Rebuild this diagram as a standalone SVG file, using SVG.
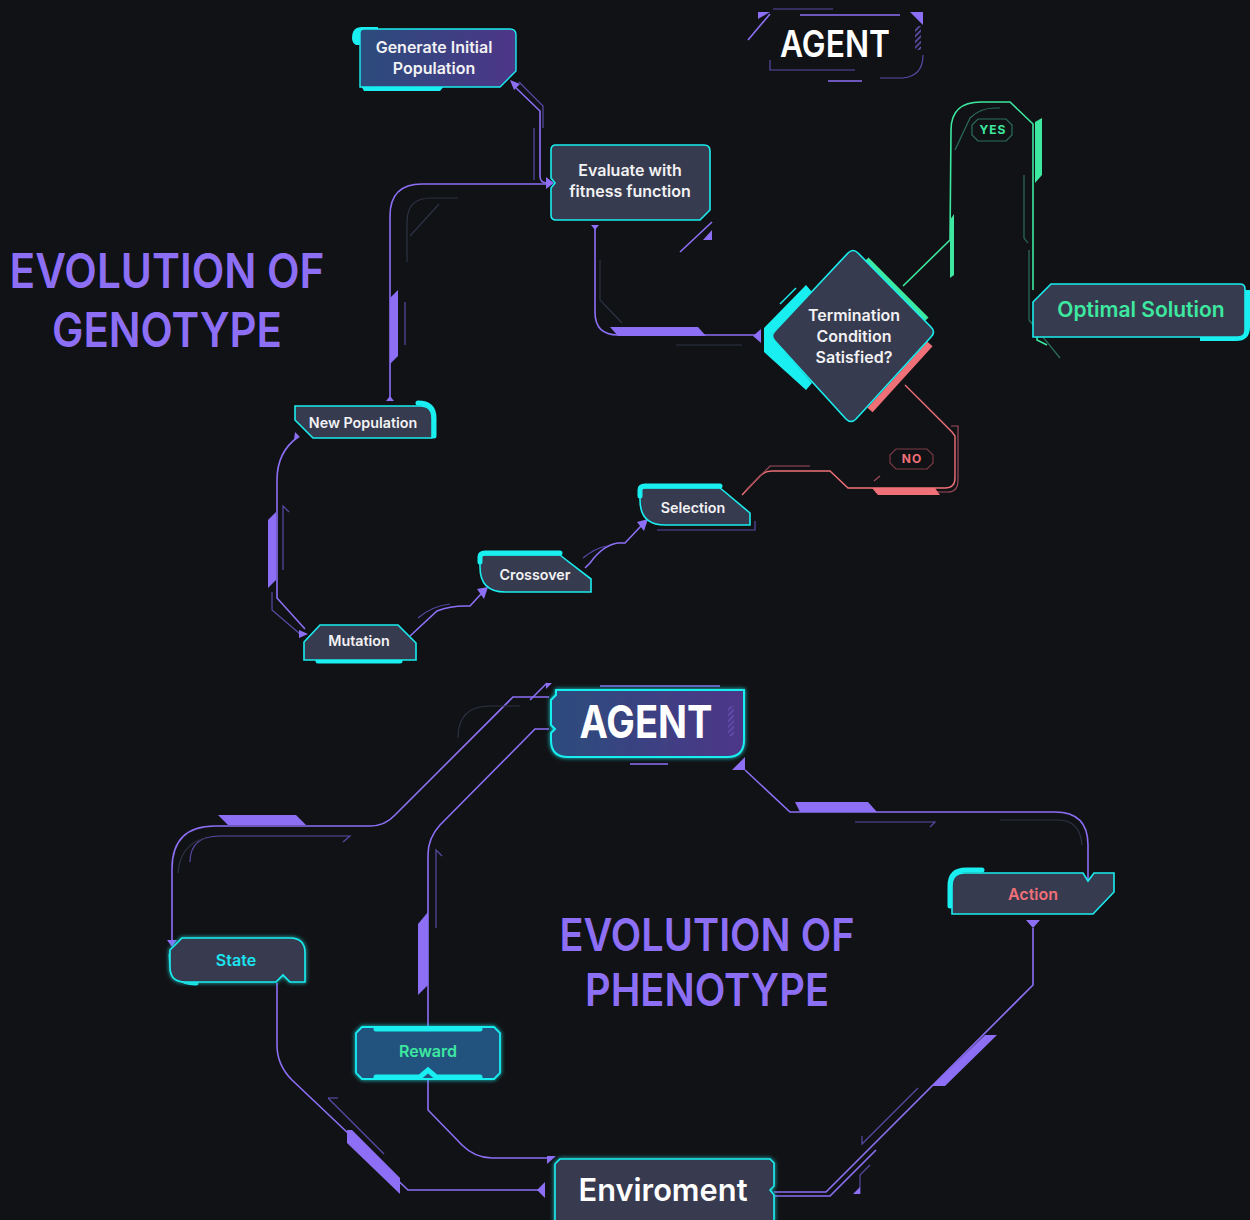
<svg xmlns="http://www.w3.org/2000/svg" width="1250" height="1220" viewBox="0 0 1250 1220">
<defs>
<style>
.bg{fill:#111215}
.node{fill:#373b4f;stroke:#19eef0;stroke-width:1.6}
.acc{fill:none;stroke:#19eef0;stroke-width:5;stroke-linecap:round}
.accf{fill:#19eef0}
.lbl{font-family:"Inter","Noto Sans",sans-serif;font-weight:600;font-size:16px;fill:#f2f2f4;text-anchor:middle}
.lbls{font-family:"Inter","Noto Sans",sans-serif;font-weight:600;font-size:14.3px;fill:#f2f2f4;text-anchor:middle}
.title{font-family:"Inter","Noto Sans",sans-serif;font-weight:600;fill:#8c6ff5;text-anchor:middle}
.ln{fill:none;stroke:#8c6ff5;stroke-width:1.6}
.lnd{fill:none;stroke:#5a4aa8;stroke-width:1.2}
.lnf{fill:none;stroke:#2c3344;stroke-width:1.2}
.pf{fill:#8c6ff5}
.gl{fill:none;stroke:#3de8a0;stroke-width:1.6}
.gf{fill:#3de8a0}
.rl{fill:none;stroke:#f07078;stroke-width:1.4}
.rf{fill:#f07078}
</style>
<linearGradient id="gA" x1="0" y1="0" x2="1" y2="0">
<stop offset="0" stop-color="#2b4c7c"/><stop offset="1" stop-color="#4d3688"/>
</linearGradient>
<filter id="glow" x="-20%" y="-20%" width="140%" height="140%">
<feGaussianBlur stdDeviation="2" result="b"/>
<feMerge><feMergeNode in="b"/><feMergeNode in="SourceGraphic"/></feMerge>
</filter>
<pattern id="hatch" width="4" height="4" patternUnits="userSpaceOnUse" patternTransform="rotate(45)">
<rect width="1.5" height="4" fill="#6a56c0"/>
</pattern>
</defs>
<rect class="bg" width="1250" height="1220"/>

<!-- titles -->
<text class="title" x="167" y="288" font-size="48" textLength="315" lengthAdjust="spacingAndGlyphs">EVOLUTION OF</text>
<text class="title" x="167" y="347" font-size="48" textLength="230" lengthAdjust="spacingAndGlyphs">GENOTYPE</text>
<text class="title" x="707" y="951" font-size="45" textLength="295" lengthAdjust="spacingAndGlyphs">EVOLUTION OF</text>
<text class="title" x="707" y="1006" font-size="45" textLength="244" lengthAdjust="spacingAndGlyphs">PHENOTYPE</text>

<!-- connectors -->
<g id="connectors">
<!-- Gen -> Eval -->
<path class="ln" d="M514,86 L540,111 L540,176 Q540,183 547,183"/>
<path class="lnd" d="M519,82 L543,106 L543,128"/>
<path class="lnd" d="M534,128 L534,180"/>
<polygon class="pf" points="510,80 520,84 514,90"/>
<polygon class="pf" points="546,177 554,183 546,189"/>
<!-- NewPop -> Eval -->
<path class="ln" d="M390,400 L390,216 Q390,184 422,184 L546,184"/>
<path class="lnf" d="M407,262 L407,222 Q407,198 431,198 L458,198"/>
<path class="lnf" d="M410,236 L439,204"/>
<polygon class="pf" points="390,298 398,290 398,356 390,364"/>
<path class="lnd" d="M405,302 L405,345"/>
<polygon class="pf" points="386,401 394,401 390,396"/>
<!-- Eval -> Diamond -->
<path class="ln" d="M595,225 L595,312 Q595,335 618,335 L757,335"/>
<path class="lnf" d="M600,260 L600,300 L622,323"/>
<polygon class="pf" points="610,327 698,327 706,336 618,336"/>
<path class="lnf" d="M676,345 L742,345"/>
<polygon class="pf" points="761,329 761,343 753,336"/>
<polygon class="pf" points="591,225 599,225 595,230"/>
<path class="ln" d="M680,252 L712,222"/>
<polygon class="pf" points="712,230 712,240 703,240"/>
<!-- YES branch -->
<path class="gl" d="M903,286 L950,240 L951,130 Q951,102 981,102 L1010,102 L1033,124 L1033,290"/>
<polygon class="gf" points="1035,122 1042,118 1042,175 1035,183"/>
<polygon class="gf" points="950,220 954,214 954,275 950,278"/>
<path fill="none" stroke="#2b6f5a" stroke-width="1.2" d="M955,150 L970,118 Q980,108 995,108 L1000,108"/>
<path fill="none" stroke="#2b6f5a" stroke-width="1.2" d="M1024,175 L1024,238 L1028,243"/>
<path fill="none" stroke="#2b6f5a" stroke-width="1.2" d="M1029,250 L1029,320 L1060,358"/>
<path class="gl" d="M1037,337 L1037,340 L1047,345"/>
<!-- NO branch -->
<path class="rl" d="M905,385 L952,432 L955,436 L955,478 Q955,488 945,488 L848,488 L830,471 L772,471 Q765,471 760,476 L742,495"/>
<path fill="none" stroke="#a04c5c" stroke-width="1.2" d="M951,426 L958,426 L958,480 Q958,492 948,492 L875,492"/>
<path fill="none" stroke="#a04c5c" stroke-width="1.2" d="M810,466 L770,466 L746,490"/>
<polygon class="rf" points="872,488 935,488 940,495 878,495"/>
<path fill="none" stroke="#a04c5c" stroke-width="1.2" d="M874,481 L880,476"/>
<!-- Selection -> Crossover -->
<path class="ln" d="M585,568 L590,563 Q603,545 618,543 L625,543 L641,526"/>
<path class="lnd" d="M583,558 Q595,548 607,546"/>
<polygon class="pf" points="637,522 648,519 644,531"/>
<!-- Crossover -> Mutation -->
<path class="ln" d="M410,636 L437,611 Q450,606 465,606 L470,606 L481,594"/>
<path class="lnd" d="M418,618 Q432,606 450,604"/>
<polygon class="pf" points="477,589 488,587 484,599"/>
<!-- NewPop -> Mutation -->
<path class="ln" d="M298,437 Q277,452 277,480 L277,598 L305,629"/>
<path class="lnd" d="M272,592 L272,610 L300,634"/>
<polygon class="pf" points="268,520 276,512 276,580 268,588"/>
<path class="lnd" d="M283,570 L283,506 L289,512"/>
<polygon class="pf" points="295,432 300,437 294,440"/>
<polygon class="pf" points="299,630 308,634 299,638"/>

<!-- AGENT -> State -->
<path class="ln" d="M549,697 L513,697 L395,815 Q385,826 370,826 L215,826 Q172,826 172,869 L172,945"/>
<polygon class="pf" points="218,815 296,815 306,825 228,825"/>
<path class="lnd" d="M190,862 Q190,836 220,836 L350,836 L343,842"/>
<path class="lnf" d="M178,873 Q180,845 205,838"/>
<polygon class="pf" points="167,940 177,940 172,947"/>
<!-- AGENT -> Reward -->
<path class="ln" d="M549,729 L535,729 L440,825 Q428,838 428,855 L428,1027"/>
<polygon class="pf" points="418,924 428,912 428,985 418,995"/>
<path class="lnd" d="M436,928 L436,850 L442,856"/>
<path class="lnf" d="M458,738 Q458,706 490,706 L520,706"/>
<path class="ln" d="M530,700 L547,683"/>
<!-- AGENT -> Action -->
<path class="ln" d="M745,770 L790,812 L1055,812 Q1088,812 1088,845 L1088,880"/>
<polygon class="pf" points="795,802 868,802 877,812 800,812"/>
<path class="lnd" d="M855,822 L935,822 L930,827"/>
<path class="lnf" d="M1000,820 L1058,820 Q1080,820 1082,845"/>
<polygon class="pf" points="732,770 745,757 745,770"/>
<!-- Action -> Enviroment -->
<path class="ln" d="M1033,928 L1033,985 L826,1192 L774,1192"/>
<polygon class="pf" points="1026,920 1040,920 1033,928"/>
<polygon class="pf" points="985,1035 997,1035 945,1086 932,1086"/>
<path class="lnd" d="M918,1088 L862,1144 L862,1136"/>
<path class="ln" d="M876,1150 L830,1196 L774,1196"/>
<path class="lnd" d="M870,1165 L860,1175 L860,1194"/>
<polygon class="pf" points="860,1187 860,1194 853,1194"/>
<!-- State -> Enviroment -->
<path class="ln" d="M277,983 L277,1045 Q277,1065 292,1080 L408,1190 L545,1190"/>
<polygon class="pf" points="347,1130 352,1130 400,1178 400,1194 347,1143"/>
<path class="lnd" d="M328,1098 L384,1154"/>
<path class="lnd" d="M328,1098 L338,1098"/>
<polygon class="pf" points="537,1190 545,1182 545,1198"/>
<!-- Reward -> Enviroment -->
<path class="ln" d="M428,1079 L428,1110 L462,1145 Q475,1158 492,1158 L552,1158"/>
<polygon class="pf" points="547,1164 556,1156 547,1156"/>
</g>

<!-- top AGENT label -->
<g id="agent-top">
<polygon class="pf" points="758,12 770,12 758,19"/>
<path class="ln" d="M770,14 L748,40"/>
<path class="lnd" d="M773,9 L833,9"/>
<path class="ln" d="M800,15 L900,15"/>
<polygon class="pf" points="910,12 923,12 923,25"/>
<rect x="915" y="26" width="6" height="24" fill="url(#hatch)"/>
<path class="lnd" d="M923,55 Q923,76 903,78 L880,78"/>
<path class="lnd" d="M770,60 L770,70 L855,70"/>
<path class="ln" d="M828,81 L862,81"/>
<text x="835" y="57" font-family="Inter,'Noto Sans',sans-serif" font-weight="600" font-size="37" fill="#ffffff" text-anchor="middle" textLength="110" lengthAdjust="spacingAndGlyphs">AGENT</text>
</g>

<!-- nodes -->
<g id="node-generate">
<path d="M352,38 Q352,27 362,27 L378,27 L378,35 L362,35 L362,45 L356,45 Q352,43 352,38 Z" class="accf"/>
<path d="M360,84 L446,84 L440,91 L364,91 Z" class="accf"/>
<path d="M364,29 L510,29 Q516,29 516,35 L516,71 L500,87 L360,87 L360,33 Q360,29 364,29 Z" fill="url(#gA)" stroke="#19eef0" stroke-width="1.4"/>
<text class="lbl" x="434" y="53">Generate Initial</text>
<text class="lbl" x="434" y="74">Population</text>
</g>

<g id="node-evaluate">
<path class="node" d="M556,145 L704,145 Q710,145 710,151 L710,210 L700,220 L556,220 Q551,220 551,215 L551,188 L555,183 L551,178 L551,150 Q551,145 556,145 Z"/>
<text class="lbl" x="630" y="176">Evaluate with</text>
<text class="lbl" x="630" y="197">fitness function</text>
</g>

<g id="node-termination">
<path d="M806,285 L764,328 L764,352 L806,390 L812,383 L775,341 Q770,336 775,331 L812,292 Z" class="accf"/>
<path d="M866,260 L926,320" stroke="#3de8a0" stroke-width="7" fill="none"/>
<path d="M930,344 L870,410" stroke="#f07078" stroke-width="7" fill="none"/>
<path d="M796,288 L780,304" stroke="#19eef0" stroke-width="1.5" fill="none"/>
<path class="node" d="M848,253 Q853,248 858,253 L931,327 Q936,332 931,337 L856,419 Q851,424 846,419 L775,341 Q770,336 775,331 Z"/>
<text class="lbl" x="854" y="321">Termination</text>
<text class="lbl" x="854" y="342">Condition</text>
<text class="lbl" x="854" y="363">Satisfied?</text>
</g>

<g id="label-yes">
<path d="M978,119 L1006,119 L1012,125 L1012,135 L1006,141 L978,141 L972,135 L972,125 Z" fill="#111215" stroke="#2b6f5a" stroke-width="1.2"/>
<text x="993" y="134" font-family="Inter,'Noto Sans',sans-serif" font-weight="700" font-size="12" fill="#3de8a0" text-anchor="middle" letter-spacing="1">YES</text>
</g>

<g id="node-optimal">
<path d="M1200,338 L1236,338 Q1247,338 1247,327 L1247,290" fill="none" stroke="#19eef0" stroke-width="6"/>
<path class="node" d="M1051,284 L1240,284 Q1245,284 1245,289 L1245,330 Q1245,337 1238,337 L1033,337 L1033,302 Z"/>
<text x="1141" y="317" font-family="Inter,'Noto Sans',sans-serif" font-weight="600" font-size="21" fill="#3de8a0" text-anchor="middle">Optimal Solution</text>
</g>

<g id="label-no">
<path d="M896,449 L927,449 L933,455 L933,463 L927,469 L896,469 L890,463 L890,455 Z" fill="#111215" stroke="#7a3a46" stroke-width="1.2"/>
<text x="912" y="463" font-family="Inter,'Noto Sans',sans-serif" font-weight="700" font-size="12" fill="#f07078" text-anchor="middle" letter-spacing="1">NO</text>
</g>

<g id="node-selection">
<path class="lnd" d="M657,530 L755,530 L755,521"/>
<path class="node" d="M645,488 L720,488 L725,492 L750,513 L750,525 L665,525 Q640,525 640,500 L640,493 Q640,488 645,488 Z"/>
<path d="M640,496 L640,490 Q640,486 645,486 L720,486" class="acc" stroke-width="4"/>
<text class="lbls" x="693" y="513">Selection</text>
</g>

<g id="node-crossover">
<path class="node" d="M485,555 L560,555 L565,559 L591,579 L591,592 L505,592 Q480,592 480,567 L480,560 Q480,555 485,555 Z"/>
<path d="M480,562 L480,557 Q480,553 485,553 L560,553" class="acc" stroke-width="4"/>
<text class="lbls" x="535" y="580">Crossover</text>
</g>

<g id="node-mutation">
<path d="M318,661 L400,661" class="acc" stroke-width="5"/>
<path class="node" d="M320,625 L398,625 L416,643 L416,660 L304,660 L304,642 Z"/>
<text class="lbls" x="359" y="646">Mutation</text>
</g>

<g id="node-newpop">
<path d="M418,403 Q434,403 434,418 L434,436" class="acc" stroke-width="5"/>
<path class="node" d="M295,406 L420,406 Q432,406 432,418 L432,438 L313,438 L295,420 Z"/>
<text class="lbls" x="363" y="428" font-size="14">New Population</text>
</g>

<g id="node-agent">
<path class="ln" d="M600,686 L720,686"/>
<path class="ln" d="M630,764 L668,764"/>
<polygon class="pf" points="546,683 552,683 546,689"/>
<path d="M556,690 L744,690 L744,740 Q744,757 727,757 L568,757 Q551,757 551,740 L551,733 L555,729 L551,725 L551,700 L556,695 Z" fill="url(#gA)" stroke="#19eef0" stroke-width="2" filter="url(#glow)"/>
<rect x="728" y="706" width="6" height="30" fill="url(#hatch)" opacity="0.8"/>
<text x="646" y="738" font-family="Inter,'Noto Sans',sans-serif" font-weight="700" font-size="45" fill="#ffffff" text-anchor="middle" textLength="133" lengthAdjust="spacingAndGlyphs">AGENT</text>
</g>

<g id="node-state">
<path d="M171,955 Q171,983 196,983" class="acc" stroke-width="4"/>
<path class="node" d="M182,938 L290,938 Q305,938 305,953 L305,982 L290,982 L283,975 L276,982 L185,982 Q170,982 170,967 L170,950 Z" filter="url(#glow)"/>
<text x="236" y="966" font-family="Inter,'Noto Sans',sans-serif" font-weight="600" font-size="16" fill="#19e6f0" text-anchor="middle">State</text>
</g>

<g id="node-action">
<path d="M950,906 L950,886 Q950,870 966,870 L982,870" class="acc" stroke-width="5"/>
<path class="node" d="M965,873 L1083,873 L1088,881 L1094,873 L1114,873 L1114,892 L1093,914 L952,914 L952,886 Q952,873 965,873 Z"/>
<text x="1033" y="900" font-family="Inter,'Noto Sans',sans-serif" font-weight="600" font-size="16" fill="#f07078" text-anchor="middle">Action</text>
</g>

<g id="node-reward">
<path d="M362,1027 L494,1027 L500,1033 L500,1073 L494,1079 L362,1079 L356,1073 L356,1033 Z" fill="#23527f" stroke="#19eef0" stroke-width="1.8" filter="url(#glow)"/>
<path d="M376,1029 L480,1029" class="acc" stroke-width="4"/>
<path d="M376,1077 L420,1077 L428,1070 L436,1077 L480,1077" class="acc" stroke-width="4" stroke-linecap="butt"/>
<text x="428" y="1057" font-family="Inter,'Noto Sans',sans-serif" font-weight="600" font-size="16" fill="#3de8a0" text-anchor="middle">Reward</text>
</g>

<g id="node-enviroment">
<path class="node" d="M560,1159 L770,1159 L774,1163 L774,1186 L770,1190 L774,1195 L774,1222 L555,1222 L555,1164 Z" filter="url(#glow)"/>
<text x="663" y="1201" font-family="Inter,'Noto Sans',sans-serif" font-weight="600" font-size="31" fill="#ffffff" text-anchor="middle" textLength="169" lengthAdjust="spacingAndGlyphs">Enviroment</text>
</g>
</svg>
